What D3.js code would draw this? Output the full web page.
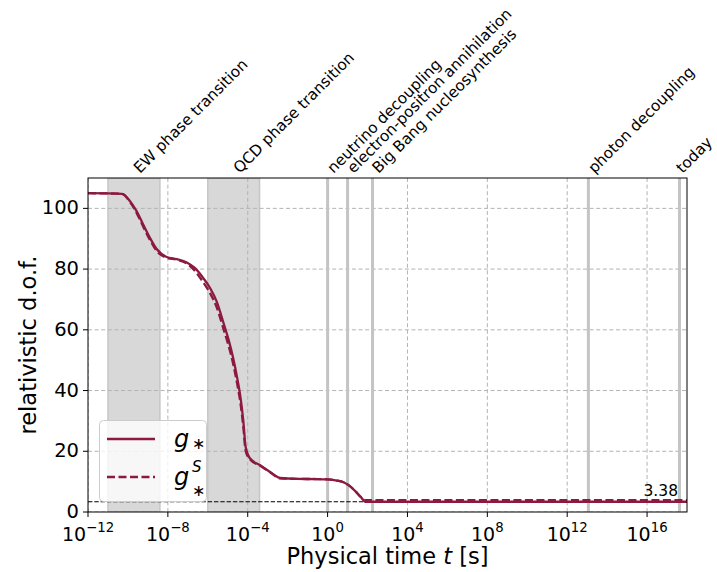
<!DOCTYPE html>
<html><head><meta charset="utf-8">
<script src="https://cdn.jsdelivr.net/npm/d3@7"></script>
<style>body{margin:0;background:#fff}svg{font-family:"DejaVu Sans",sans-serif}</style>
</head><body><svg id="c" width="717" height="572"></svg>
<script>
// ---- data ----
const times = [1e-12, 5.0e-11, 1.3e-10, 2.75e-10, 5.9e-10, 1.29e-9, 2.75e-9, 8.7e-9, 2.8e-8, 8.9e-8, 2.3e-7, 6.0e-7, 1.32e-6, 2.8e-6, 6.3e-6, 1.07e-5, 1.9e-5, 3.0e-5, 4.5e-5, 6.0e-5, 7.9e-5, 1.32e-4, 4.2e-4, 1.32e-3, 4.2e-3, 2.9e-2, 0.3, 1.0, 2.5, 6.3, 12.6, 25, 45, 79, 1e18];
const gStar  = [105, 104.8, 102.3, 99.0, 94.6, 90.2, 86.6, 84.0, 83.3, 82.2, 80.3, 77.0, 73.7, 69.3, 62.0, 57.0, 50.5, 44.0, 37.0, 30.0, 21.4, 17.6, 15.4, 13.2, 11.2, 10.9, 10.85, 10.75, 10.4, 9.8, 8.6, 6.8, 5.0, 3.38, 3.38];
const gStarS = [105, 104.8, 102.0, 98.4, 93.9, 89.5, 86.0, 83.7, 83.1, 81.8, 79.3, 75.6, 72.0, 67.4, 60.0, 55.0, 48.5, 42.0, 35.0, 28.0, 20.0, 17.3, 15.2, 13.1, 11.1, 10.9, 10.85, 10.75, 10.4, 9.8, 8.6, 6.8, 5.0, 3.91, 3.91];
const bands = [{name: "EW phase transition", from: 1e-11, to: 4.0e-9, label: 2.0e-10},
               {name: "QCD phase transition", from: 1e-6, to: 3.9e-4, label: 2.0e-5}];
const events = [{name: "neutrino decoupling", t: 1.0},
                {name: "electron-positron annihilation", t: 10},
                {name: "Big Bang nucleosynthesis", t: 178},
                {name: "photon decoupling", t: 1.15e13},
                {name: "today", t: 4.2e17}];
const xTicks = [1e-12, 1e-8, 1e-4, 1e0, 1e4, 1e8, 1e12, 1e16];
const xTickExp = ["\u221212", "\u22128", "\u22124", "0", "4", "8", "12", "16"];
const yTicks = [0, 20, 40, 60, 80, 100];
const gToday = 3.38;
const color = "#8c1a3e";

// ---- layout ----
const W = 717, L = 88, R = 687, T = 178, B = 512;
const svg = d3.select("#c");
const x = d3.scaleLog().domain([1e-12, 1e18]).range([L, R]);
const y = d3.scaleLinear().domain([0, 110]).range([B, T]);

svg.append("defs").append("clipPath").attr("id", "clip")
  .append("rect").attr("x", L).attr("y", T).attr("width", R - L).attr("height", B - T);
const plot = svg.append("g").attr("clip-path", "url(#clip)");

// bands
plot.selectAll("rect.band").data(bands).enter().append("rect")
  .attr("x", d => x(d.from)).attr("width", d => x(d.to) - x(d.from))
  .attr("y", T).attr("height", B - T)
  .attr("fill", "#d8d8d8").attr("stroke", "#c6c6c6").attr("stroke-width", 1.5);

// grid
plot.selectAll("line.gx").data(xTicks).enter().append("line")
  .attr("x1", d => x(d)).attr("x2", d => x(d)).attr("y1", T).attr("y2", B)
  .attr("stroke", "#b3b3b3").attr("stroke-width", 1).attr("stroke-dasharray", "4,2.6");
plot.selectAll("line.gy").data(yTicks).enter().append("line")
  .attr("x1", L).attr("x2", R).attr("y1", d => y(d)).attr("y2", d => y(d))
  .attr("stroke", "#b3b3b3").attr("stroke-width", 1).attr("stroke-dasharray", "4,2.6");

// event lines
plot.selectAll("line.ev").data(events).enter().append("line")
  .attr("x1", d => x(d.t)).attr("x2", d => x(d.t)).attr("y1", T).attr("y2", B)
  .attr("stroke", "#c4c4c4").attr("stroke-width", 3);

// today's value line
plot.append("line").attr("x1", L).attr("x2", R).attr("y1", y(gToday)).attr("y2", y(gToday))
  .attr("stroke", "#000").attr("stroke-width", 1.2).attr("stroke-dasharray", "4.4,1.9");

// curves
const line = d3.line().x(d => x(d[0])).y(d => y(d[1])).curve(d3.curveMonotoneX);
plot.append("path").datum(times.map((t, i) => [t, gStarS[i]]))
  .attr("d", line).attr("fill", "none").attr("stroke", color).attr("stroke-width", 2.3)
  .attr("stroke-dasharray", "8,3.5");
plot.append("path").datum(times.map((t, i) => [t, gStar[i]]))
  .attr("d", line).attr("fill", "none").attr("stroke", color).attr("stroke-width", 2.3);

// 3.38 label
svg.append("text").attr("x", 678).attr("y", y(gToday) - 6).attr("text-anchor", "end")
  .attr("font-size", 15.5).attr("fill", "#000").text(gToday.toFixed(2));

// frame
svg.append("rect").attr("x", L).attr("y", T).attr("width", R - L).attr("height", B - T)
  .attr("fill", "none").attr("stroke", "#000").attr("stroke-width", 1);

// x axis
const xa = svg.append("g");
xTicks.forEach((t, i) => {
  xa.append("line").attr("x1", x(t)).attr("x2", x(t)).attr("y1", B).attr("y2", B + 5).attr("stroke", "#000");
  const tx = xa.append("text").attr("x", x(t)).attr("y", B + 28.5).attr("text-anchor", "middle").attr("font-size", 19);
  tx.append("tspan").text("10");
  tx.append("tspan").attr("dy", -8.5).attr("font-size", 13.3).text(xTickExp[i]);
});
svg.append("text").attr("x", (L + R) / 2).attr("y", 564).attr("text-anchor", "middle").attr("font-size", 22.5)
  .call(s => { s.append("tspan").text("Physical time "); s.append("tspan").attr("font-style", "italic").text("t"); s.append("tspan").text(" [s]"); });

// y axis
yTicks.forEach(v => {
  svg.append("line").attr("x1", L - 5).attr("x2", L).attr("y1", y(v)).attr("y2", y(v)).attr("stroke", "#000");
  svg.append("text").attr("x", L - 9).attr("y", y(v) + 6).attr("text-anchor", "end").attr("font-size", 19.5).text(v);
});
svg.append("text").attr("transform", `translate(36,${(T + B) / 2}) rotate(-90)`).attr("text-anchor", "middle")
  .attr("font-size", 22.5).text("relativistic d.o.f.");

// top labels rotated 45°
const fs = 15.3;
const labels = bands.map(b => ({name: b.name, t: b.label})).concat(events.map(e => ({name: e.name, t: e.t})));
labels.forEach(l => {
  let bx = x(l.t) + 6;
  const by = T - 4;
  const txt = svg.append("text").attr("transform", `translate(${bx},${by}) rotate(-45)`).attr("font-size", fs).text(l.name);
  const r = txt.node().getBoundingClientRect();
  if (r.right > W - 1) {
    bx -= (r.right - (W - 1));
    txt.attr("transform", `translate(${bx},${by}) rotate(-45)`);
  }
});

// legend
const lg = svg.append("g");
lg.append("rect").attr("x", 99.5).attr("y", 420.5).attr("width", 107).attr("height", 81).attr("rx", 4)
  .attr("fill", "rgba(255,255,255,0.8)").attr("stroke", "#cccccc");
lg.append("line").attr("x1", 107).attr("x2", 155).attr("y1", 439).attr("y2", 439).attr("stroke", color).attr("stroke-width", 2.3);
lg.append("line").attr("x1", 107).attr("x2", 155).attr("y1", 477).attr("y2", 477).attr("stroke", color).attr("stroke-width", 2.3).attr("stroke-dasharray", "8,3.5");
lg.append("text").attr("x", 174).attr("y", 447).attr("font-size", 24).attr("font-style", "italic").text("g");
lg.append("text").attr("x", 192).attr("y", 449).attr("font-size", 16).text("\u2217");
lg.append("text").attr("x", 174).attr("y", 485).attr("font-size", 24).attr("font-style", "italic").text("g");
lg.append("text").attr("x", 192).attr("y", 472).attr("font-size", 15).attr("font-style", "italic").text("S");
lg.append("text").attr("x", 192).attr("y", 496).attr("font-size", 16).text("\u2217");
</script></body></html>
